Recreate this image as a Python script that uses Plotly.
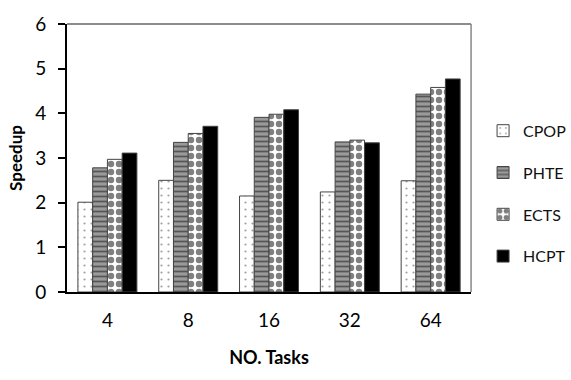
import plotly.graph_objects as go

tasks = ["4", "8", "16", "32", "64"]
cpop = [2.01, 2.50, 2.15, 2.24, 2.49]
phte = [2.78, 3.35, 3.91, 3.36, 4.43]
ects = [2.97, 3.55, 3.98, 3.40, 4.58]
hcpt = [3.11, 3.71, 4.08, 3.34, 4.77]

font_family = "Lato, 'Open Sans', Arial, sans-serif"

series = [
    ("CPOP", cpop, dict(shape=".", bgcolor="white", fgcolor="#444444", size=7, solidity=0.08)),
    ("PHTE", phte, dict(shape="-", bgcolor="#9a9a9a", fgcolor="#111111", size=5, solidity=0.35)),
    ("ECTS", ects, dict(shape=".", bgcolor="white", fgcolor="black", size=8, solidity=0.5)),
    ("HCPT", hcpt, None),
]

fig = go.Figure()
for name, vals, pat in series:
    marker = dict(color="black", line=dict(color="#444444", width=1))
    if pat is not None:
        marker["color"] = pat["bgcolor"]
        marker["pattern"] = pat
    fig.add_trace(go.Bar(
        name=name, x=tasks, y=vals, marker=marker, legendgroup=name,
    ))

fig.update_layout(
    width=571, height=380,
    margin=dict(l=67, r=92, t=13, b=88),
    paper_bgcolor="white", plot_bgcolor="white",
    barmode="group", bargap=0.27, bargroupgap=0,
    font=dict(family=font_family, color="black"),
    showlegend=True,
    legend=dict(
        xref="container", yref="container",
        x=0.846, y=0.49, xanchor="left", yanchor="middle",
        font=dict(size=16, color="#111111"),
        traceorder="grouped", tracegroupgap=18,
        itemwidth=30,
    ),
    xaxis=dict(
        type="category",
        showline=True, linecolor="black", linewidth=2,
        ticks="", showgrid=False,
        tickfont=dict(size=19),
        ticklabelstandoff=10,
        title=dict(text="<b>NO. Tasks</b>", font=dict(size=18), standoff=22),
    ),
    yaxis=dict(
        range=[0, 6], dtick=1,
        showline=True, linecolor="black", linewidth=2,
        ticks="outside", ticklen=7, tickwidth=1.5, tickcolor="black",
        showgrid=False, zeroline=False,
        tickfont=dict(size=19),
        ticklabelstandoff=8,
        title=dict(text="<b>Speedup</b>", font=dict(size=17), standoff=8),
    ),
)

# light frame on top and right edges of the plotting area
fig.add_shape(type="line", xref="paper", yref="paper", x0=0, x1=1, y0=1, y1=1,
              line=dict(color="#666666", width=1.5))
fig.add_shape(type="line", xref="paper", yref="paper", x0=1, x1=1, y0=0, y1=1,
              line=dict(color="#888888", width=1.5))

fig.write_html("out.html")
